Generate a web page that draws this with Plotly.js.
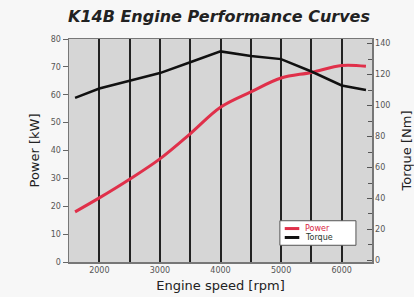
<!DOCTYPE html>
<html>
<head>
<meta charset="utf-8">
<script src="https://cdn.plot.ly/plotly-3.0.1.min.js"></script>
<style>html,body{margin:0;padding:0;background:#f7f7f7;}#chart{width:414px;height:297px;}</style>
</head>
<body>
<div id="chart"></div>
<script>
var rpm = [1600, 2000, 2500, 3000, 3500, 4000, 4500, 5000, 5500, 6000, 6400];
var powerKW = [18, 23, 29.7, 37, 46, 55.5, 61, 66, 68, 70.5, 70.2];
var torqueNm = [105, 111, 116, 121, 128, 135, 132, 130, 122, 113, 110];
var xTickVals = [2000, 2500, 3000, 3500, 4000, 4500, 5000, 5500, 6000];
var xTickText = ['2000', '', '3000', '', '4000', '', '5000', '', '6000'];
var seriesNames = ['Power', 'Torque'];
var seriesColors = ['#e0304a', '#111111'];
var legendTextColors = ['#d8263f', '#2a3a30'];

var traces = [
  {x: rpm, y: powerKW, name: seriesNames[0], type: 'scatter', mode: 'lines',
   line: {color: seriesColors[0], width: 3, shape: 'spline'}, yaxis: 'y', showlegend: false},
  {x: rpm, y: torqueNm, name: seriesNames[1], type: 'scatter', mode: 'lines',
   line: {color: seriesColors[1], width: 2.5}, yaxis: 'y2', showlegend: false}
];

// compact legend drawn with shapes + annotations (paper coordinates)
var legRows = [0.150, 0.110];
var shapes = [
  {type: 'rect', xref: 'paper', yref: 'paper', x0: 0.696, x1: 0.947, y0: 0.075, y1: 0.185,
   fillcolor: '#ffffff', line: {color: '#555', width: 1}, layer: 'above'}
];
var annotations = [];
for (var i = 0; i < seriesNames.length; i++) {
  shapes.push({type: 'line', xref: 'paper', yref: 'paper', x0: 0.712, x1: 0.760, y0: legRows[i], y1: legRows[i],
               line: {color: seriesColors[i], width: 3}, layer: 'above'});
  annotations.push({xref: 'paper', yref: 'paper', x: 0.772, y: legRows[i], xanchor: 'left', yanchor: 'middle',
                    text: seriesNames[i], showarrow: false,
                    font: {family: 'DejaVu Sans', size: 8, color: legendTextColors[i]}});
}

var layout = {
  width: 414, height: 297,
  margin: {l: 69, r: 42, t: 39, b: 35},
  paper_bgcolor: '#f7f7f7',
  plot_bgcolor: '#d6d6d6',
  showlegend: false,
  shapes: shapes,
  annotations: annotations,
  title: {text: 'K14B Engine Performance Curves', x: 0.529, xanchor: 'center', y: 0.965, yanchor: 'top',
          font: {family: 'DejaVu Sans', size: 16, weight: 'bold', style: 'italic', color: '#222'}},
  xaxis: {range: [1500, 6500], tickvals: xTickVals, ticktext: xTickText,
          showgrid: true, gridcolor: '#222', gridwidth: 2, zeroline: false,
          showline: true, mirror: true, linecolor: '#777', linewidth: 1.5,
          ticks: '', tickfont: {family: 'DejaVu Sans', size: 8, color: '#555'},
          title: {text: 'Engine speed [rpm]', standoff: 7, font: {family: 'DejaVu Sans', size: 13, color: '#222'}}},
  yaxis: {range: [0, 80], dtick: 10, showgrid: false, zeroline: false,
          showline: true, linecolor: '#777', linewidth: 1.5,
          ticks: 'outside', ticklen: 5, tickcolor: '#666',
          tickfont: {family: 'DejaVu Sans', size: 8, color: '#555'},
          title: {text: 'Power [kW]', standoff: 8, font: {family: 'DejaVu Sans', size: 13, color: '#222'}}},
  yaxis2: {range: [-1, 143], overlaying: 'y', side: 'right', dtick: 20, showgrid: false, zeroline: false,
           showline: true, linecolor: '#777', linewidth: 1.5,
           ticks: 'inside', ticklen: 5, tickcolor: '#555',
           minor: {dtick: 10, ticks: 'inside', ticklen: 4, tickcolor: '#555'},
           tickfont: {family: 'DejaVu Sans', size: 8, color: '#555'},
           title: {text: 'Torque [Nm]', standoff: 16, font: {family: 'DejaVu Sans', size: 13, color: '#222'}}}
};

Plotly.newPlot('chart', traces, layout, {displayModeBar: false, staticPlot: true});
</script>
</body>
</html>
